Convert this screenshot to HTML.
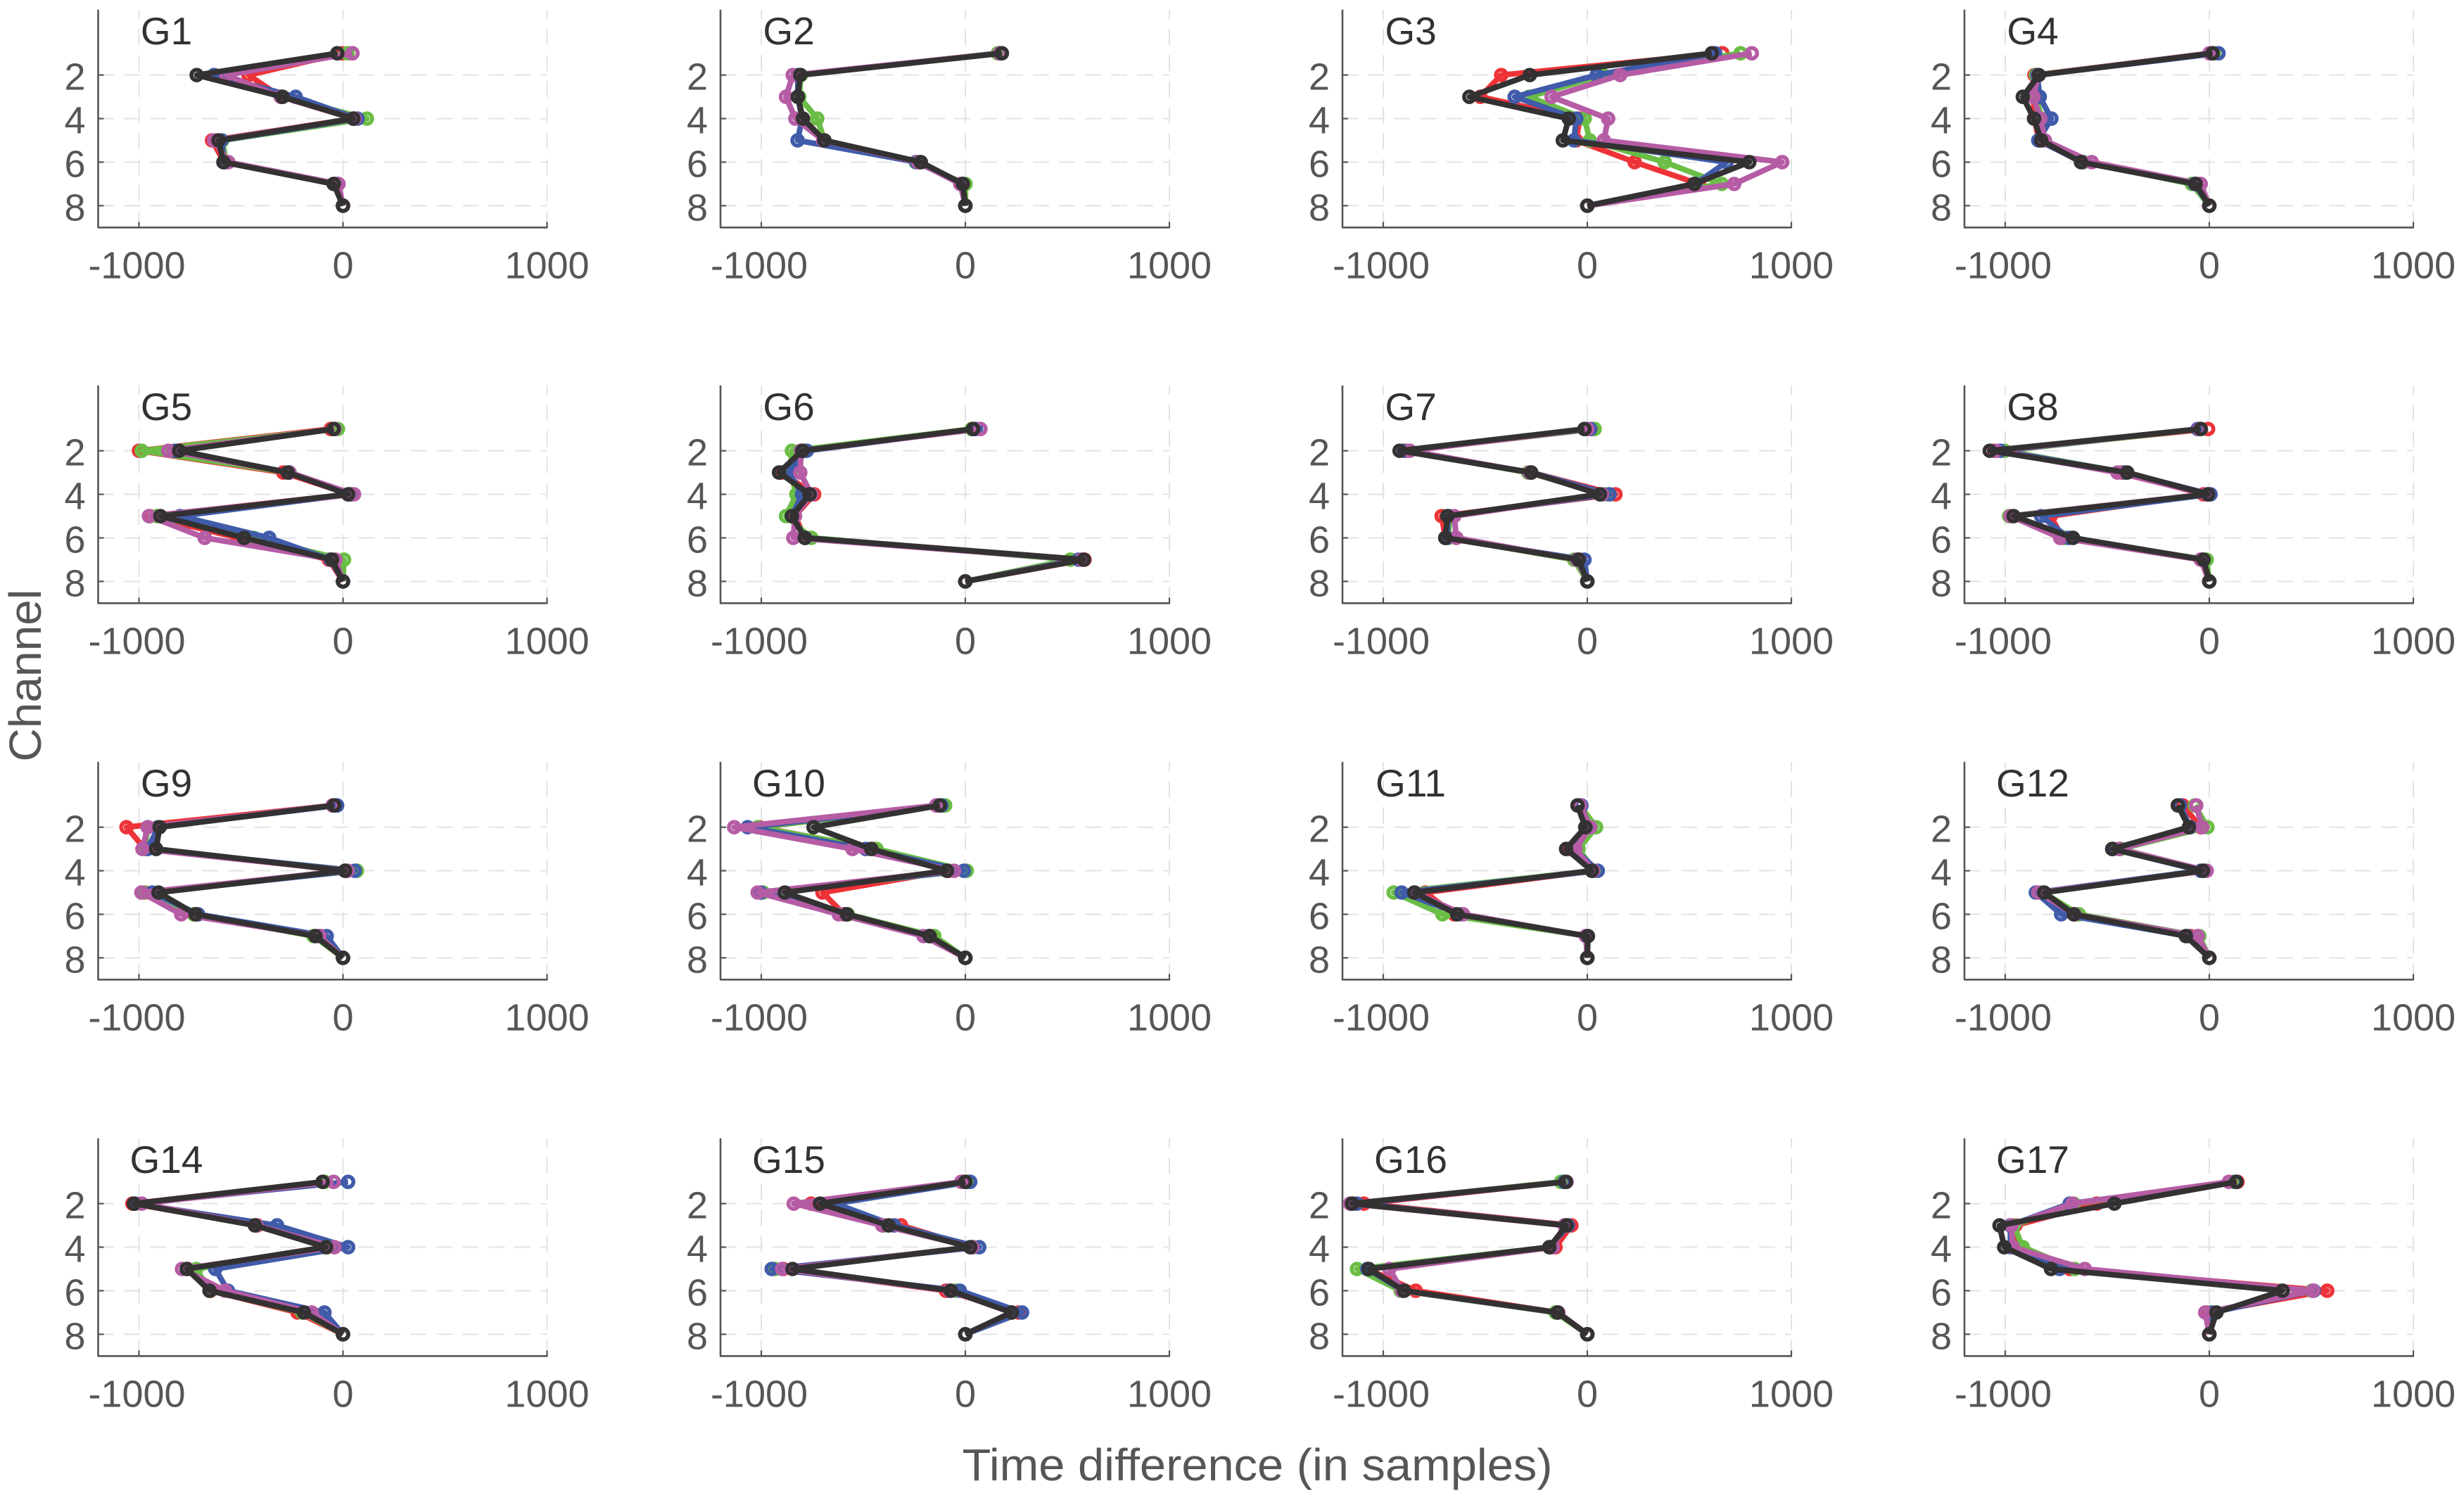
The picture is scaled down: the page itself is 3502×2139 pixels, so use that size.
<!DOCTYPE html>
<html lang="en">
<head>
<meta charset="utf-8">
<title>Time difference per channel</title>
<style>
  html, body { margin: 0; padding: 0; background: #fff; }
  svg { display: block; }
  text { font-family: "Liberation Sans", Arial, sans-serif; }
</style>
</head>
<body>
<svg id="figure" xmlns="http://www.w3.org/2000/svg" width="3502" height="2139" viewBox="0 0 3502 2139">
  <rect x="0" y="0" width="3502" height="2139" fill="#ffffff"/>
  <g id="panels"></g>
  <text x="1787" y="2104" text-anchor="middle" font-size="64" fill="#565656" textLength="839" lengthAdjust="spacingAndGlyphs">Time difference (in samples)</text>
  <text transform="translate(58,960) rotate(-90)" text-anchor="middle" font-size="64" fill="#565656" textLength="245" lengthAdjust="spacingAndGlyphs">Channel</text>
</svg>
<script>
const panelTitles = ["G1","G2","G3","G4","G5","G6","G7","G8","G9","G10","G11","G12","G14","G15","G16","G17"];
const seriesNames = ["red","green","blue","magenta","black"];
const channels = [1,2,3,4,5,6,7,8];
const xTickValues = [-1000,0,1000];
const xTickLabels = ["-1000","0","1000"];
const yTickValues = [2,4,6,8];
const yTickLabels = ["2","4","6","8"];
const xLimits = [-1200,1000];
const yLimits = [-1,9];

// each panel: red, green, blue, magenta, black — values per channel 1..8
const G1 = [
  [-2,-463,-305,51,-642,-582,-38,0],
  [22,-632,-295,117,-592,-572,-25,0],
  [46,-632,-232,71,-596,-582,-28,0],
  [46,-572,-305,57,-632,-562,-22,0],
  [-28,-717,-297,51,-610,-586,-46,0]];
const G2 = [
  [169,-814,-821,-796,-691,-224,-13,0],
  [159,-806,-814,-726,-690,-243,1,0],
  [169,-821,-821,-800,-822,-239,-13,0],
  [169,-846,-879,-833,-697,-231,-25,0],
  [179,-809,-821,-796,-691,-218,-12,0]];
const G3 = [
  [662,-422,-524,-38,-54,232,547,0],
  [751,77,-285,-13,12,379,659,0],
  [626,46,-356,-54,-66,682,530,0],
  [806,161,-175,102,81,955,720,0],
  [610,-282,-578,-91,-120,794,524,0]];
const G4 = [
  [16,-857,-862,-857,-835,-617,-64,0],
  [23,-850,-850,-821,-828,-617,-86,0],
  [45,-843,-831,-774,-838,-624,-71,0],
  [1,-838,-862,-828,-806,-576,-42,0],
  [16,-836,-914,-859,-824,-629,-67,0]];
const G5 = [
  [-60,-1000,-293,33,-947,-517,-69,0],
  [-25,-986,-262,46,-912,-438,5,0],
  [-42,-824,-262,37,-798,-362,-60,0],
  [-42,-856,-262,54,-951,-678,-37,0],
  [-46,-803,-271,25,-895,-485,-54,0]];
const G6 = [
  [45,-799,-901,-741,-835,-785,584,0],
  [31,-850,-857,-828,-879,-755,515,0],
  [52,-777,-865,-800,-850,-785,555,0],
  [74,-806,-809,-755,-835,-843,569,0],
  [38,-799,-913,-763,-850,-787,581,0]];
const G7 = [
  [33,-891,-275,138,-714,-696,-36,0],
  [36,-899,-290,87,-674,-681,-65,0],
  [14,-899,-275,109,-681,-688,-14,0],
  [0,-870,-283,72,-652,-642,-51,0],
  [-14,-920,-275,62,-686,-696,-43,0]];
const G8 = [
  [-6,-1054,-428,-28,-777,-719,-42,0],
  [-42,-1003,-413,-6,-981,-705,-13,0],
  [-57,-1025,-413,6,-824,-690,-35,0],
  [-49,-1047,-450,-13,-974,-731,-42,0],
  [-42,-1076,-402,-6,-959,-668,-28,0]];
const G9 = [
  [-46,-1061,-971,14,-971,-725,-109,0],
  [-41,-957,-971,68,-978,-732,-145,0],
  [-29,-906,-957,58,-935,-710,-80,0],
  [-51,-957,-983,22,-988,-793,-116,0],
  [-43,-899,-916,10,-904,-722,-135,0]];
const G10 = [
  [-117,-1009,-443,-81,-700,-594,-170,0],
  [-99,-1018,-435,7,-991,-576,-152,0],
  [-117,-1067,-488,-7,-1004,-585,-178,0],
  [-143,-1133,-553,-55,-1018,-620,-205,0],
  [-125,-744,-461,-90,-885,-580,-175,0]];
const G11 = [
  [-43,0,-87,29,-794,-652,0,0],
  [-36,43,-43,36,-949,-710,0,0],
  [-29,7,-65,51,-910,-616,-7,0],
  [-36,14,-58,29,-845,-609,-7,0],
  [-48,-10,-104,22,-848,-638,3,0]];
const G12 = [
  [-130,-42,-435,-28,-828,-661,-93,0],
  [-71,-9,-435,-20,-814,-639,-49,0],
  [-144,-93,-472,-42,-850,-726,-108,0],
  [-64,-35,-443,-13,-838,-661,-57,0],
  [-154,-100,-476,-31,-809,-664,-115,0]];
const G14 = [
  [-95,-1032,-420,-77,-763,-649,-223,0],
  [-90,-1021,-429,-77,-719,-652,-200,0],
  [25,-1018,-323,25,-626,-564,-91,0],
  [-46,-986,-424,-42,-789,-578,-153,0],
  [-100,-1025,-432,-83,-766,-654,-192,0]];
const G15 = [
  [7,-756,-315,34,-892,-95,261,0],
  [14,-644,-400,41,-932,-44,227,0],
  [24,-637,-349,68,-949,-27,278,0],
  [-20,-841,-407,34,-898,-78,227,0],
  [0,-712,-376,24,-847,-71,227,0]];
const G16 = [
  [-112,-1095,-78,-156,-1078,-841,-146,0],
  [-129,-1146,-102,-180,-1129,-915,-156,0],
  [-112,-1129,-95,-180,-1078,-902,-146,0],
  [-102,-1163,-112,-169,-970,-908,-142,0],
  [-105,-1153,-102,-186,-1071,-898,-146,0]];
const G17 = [
  [138,-551,-950,-950,-684,578,-12,0],
  [121,-664,-958,-914,-659,503,5,0],
  [130,-684,-975,-975,-734,512,13,0],
  [96,-671,-970,-963,-610,508,-20,0],
  [133,-465,-1028,-1005,-776,359,35,0]];
const panelValues = [G1,G2,G3,G4,G5,G6,G7,G8,G9,G10,G11,G12,G14,G15,G16,G17];

const SVG_NS = "http://www.w3.org/2000/svg";
const seriesColors = {red:"#EE3338",green:"#6ABD45",blue:"#3F5BA9",magenta:"#B55CA5",black:"#333132"};
const colLefts = [139.5,1024,1908,2792];
const rowBottoms = [323.3,857.3,1392.3,1927.3];
const plotW = 638;
const plotH = 309.5;

function makeEl(tag, attrs) {
  const el = document.createElementNS(SVG_NS, tag);
  for (const k in attrs) el.setAttribute(k, attrs[k]);
  return el;
}
function xScale(v, left) {
  return left + (v - xLimits[0]) / (xLimits[1] - xLimits[0]) * plotW;
}
function yScale(v, bottom) {
  return bottom - plotH + (v - yLimits[0]) / (yLimits[1] - yLimits[0]) * plotH;
}

const root = document.getElementById("panels");
panelValues.forEach(function (values, p) {
  const left = colLefts[p % 4];
  const bottom = rowBottoms[Math.floor(p / 4)];
  const top = bottom - plotH;
  const right = left + plotW;

  const g = makeEl("g", {});
  
  
  root.appendChild(g);

  xTickValues.forEach(function (v, i) {
    const x = xScale(v, left);
    const grid = makeEl("line", {x1:x, x2:x, y1:bottom, y2:top, stroke:"#e3e3e3", "stroke-width":2, "stroke-dasharray":"23 14"});
    
    
    g.appendChild(grid);
    const tick = makeEl("line", {x1:x, x2:x, y1:bottom, y2:bottom-8, stroke:"#555555", "stroke-width":2.2});
    
    
    g.appendChild(tick);
    const label = makeEl("text", {x:x - (i===0?3:0), y:bottom+72, "text-anchor":"middle", "font-size":54, fill:"#565656"});
    label.textContent = xTickLabels[i];
    
    
    g.appendChild(label);
  });

  yTickValues.forEach(function (v, i) {
    const y = yScale(v, bottom);
    const grid = makeEl("line", {x1:left, x2:right, y1:y, y2:y, stroke:"#e3e3e3", "stroke-width":2, "stroke-dasharray":"23 14"});
    
    
    g.appendChild(grid);
    const tick = makeEl("line", {x1:left, x2:left+8, y1:y, y2:y, stroke:"#555555", "stroke-width":2.2});
    
    
    g.appendChild(tick);
    const label = makeEl("text", {x:left-18, y:y+21, "text-anchor":"end", "font-size":54, fill:"#565656"});
    label.textContent = yTickLabels[i];
    
    
    g.appendChild(label);
  });

  const axisX = makeEl("line", {x1:left-1, x2:right+1, y1:bottom, y2:bottom, stroke:"#555555", "stroke-width":2.6});
  
  
  g.appendChild(axisX);
  const axisY = makeEl("line", {x1:left, x2:left, y1:top, y2:bottom, stroke:"#555555", "stroke-width":2.6});
  
  
  g.appendChild(axisY);

  const title = makeEl("text", {x:left+97, y:top+49, "text-anchor":"middle", "font-size":55, fill:"#333132"});
  title.textContent = panelTitles[p];
  
  
  g.appendChild(title);

  values.forEach(function (series, s) {
    const color = seriesColors[seriesNames[s]];
    const sg = makeEl("g", {});
    
    
    g.appendChild(sg);
    const pts = series.map(function (v, i) {
      return xScale(v, left).toFixed(1) + "," + yScale(channels[i], bottom).toFixed(1);
    }).join(" ");
    const line = makeEl("polyline", {points:pts, fill:"none", stroke:color, "stroke-width":8, "stroke-linejoin":"round"});
    
    
    sg.appendChild(line);
    series.forEach(function (v, i) {
      const c = makeEl("circle", {cx:xScale(v, left), cy:yScale(channels[i], bottom), r:7.5, fill:"none", stroke:color, "stroke-width":5.6});
      
      
      sg.appendChild(c);
    });
  });
});
</script>
</body>
</html>
